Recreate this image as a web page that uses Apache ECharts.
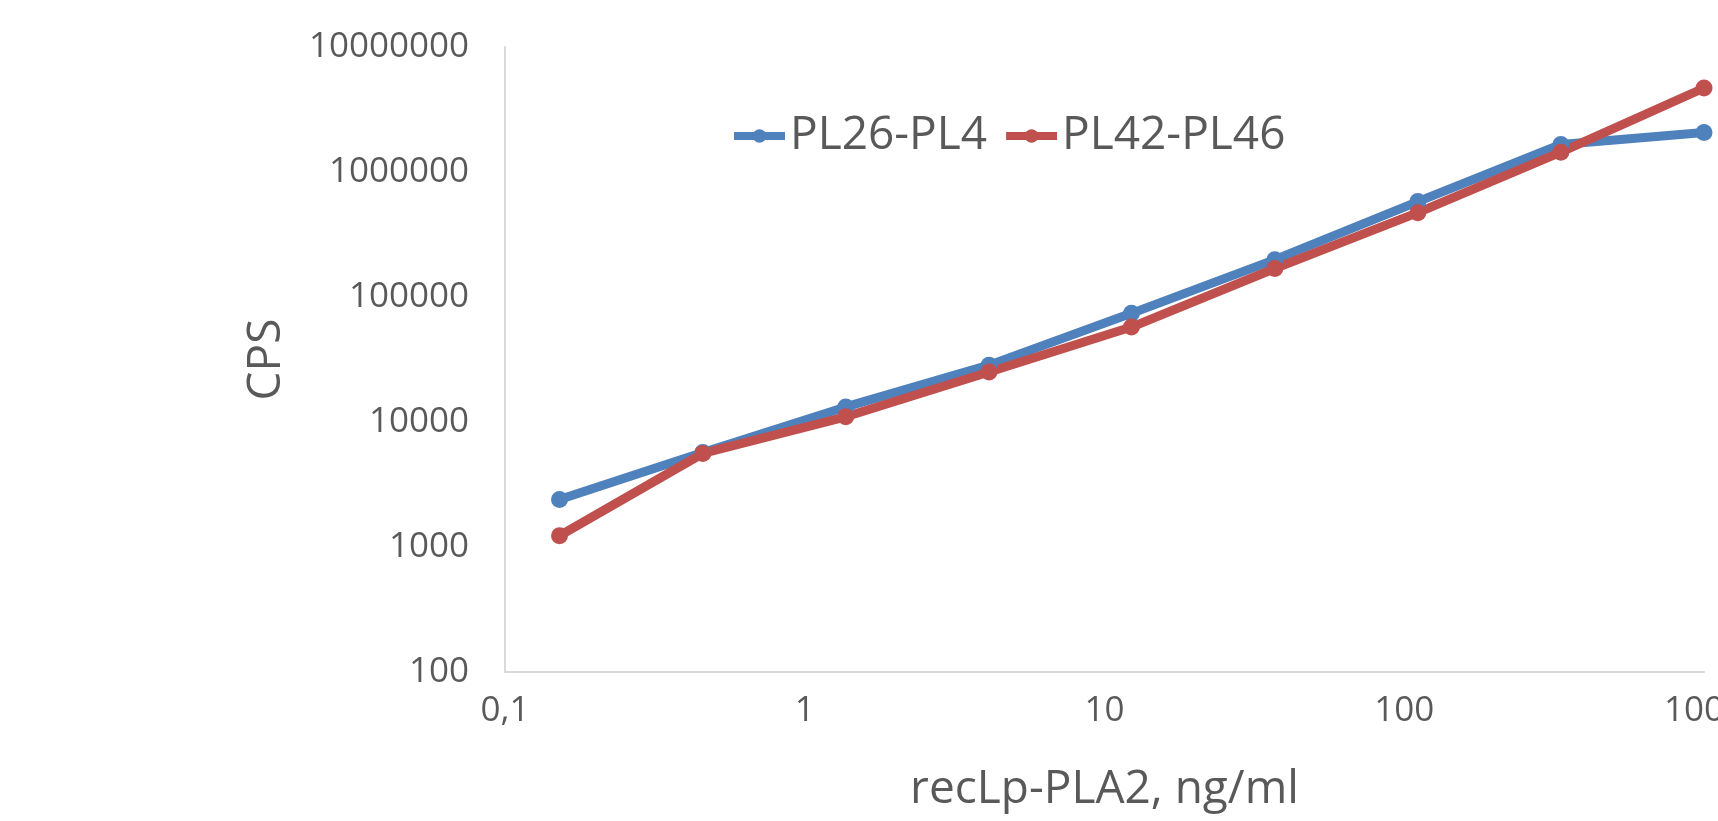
<!DOCTYPE html>
<html>
<head>
    <meta charset="utf-8">
    <title>CPS vs recLp-PLA2</title>
    <script src="https://cdn.jsdelivr.net/npm/echarts@6/dist/echarts.min.js"></script>
    <style>
        html, body { margin: 0; padding: 0; background: #fff; }
    </style>
</head>
<body>
<div id="main" style="width: 1718px;height:821px;"></div>
<script type="text/javascript">

    // data
    let conc = [0.152, 0.457, 1.37, 4.12, 12.3, 37.0, 111, 333, 1000];
    let pl26 = [2400, 5700, 13200, 28500, 74000, 199000, 580000, 1660000, 2070000];
    let pl42 = [1230, 5600, 11000, 25100, 57500, 169000, 473000, 1440000, 4700000];
    let seriesNames = ['PL26-PL4', 'PL42-PL46'];
    let colors = ['#4F81BD', '#C0504D'];

    function pairs(ys) {
        return conc.map(function (x, i) { return [x, ys[i]]; });
    }

    let font = 'Open Sans';
    let textColor = '#595959';

    let option = {
        animation: false,
        color: colors,
        grid: { left: 505, right: 14, top: 47, bottom: 149, containLabel: false, outerBoundsMode: 'none' },
        legend: {
            left: 725,
            top: 108,
            itemWidth: 51,
            itemHeight: 17,
            itemGap: 15,
            lineStyle: { width: 8 },
            textStyle: { fontFamily: font, fontSize: 46, color: textColor },
            data: seriesNames
        },
        xAxis: {
            type: 'log',
            logBase: 10,
            min: 0.1,
            max: 1000,
            name: 'recLp-PLA2, ng/ml',
            nameLocation: 'middle',
            nameGap: 95,
            nameTextStyle: { fontFamily: font, fontSize: 46, color: textColor },
            axisLine: { lineStyle: { color: '#D9D9D9', width: 2 } },
            axisTick: { show: false },
            splitLine: { show: false },
            axisLabel: {
                fontFamily: font, fontSize: 35, color: textColor, margin: 22,
                formatter: function (v) { return String(v).replace('.', ','); }
            }
        },
        yAxis: {
            type: 'log',
            logBase: 10,
            min: 100,
            max: 10000000,
            name: 'CPS',
            nameLocation: 'middle',
            nameRotate: 90,
            nameGap: 215,
            nameTextStyle: { fontFamily: font, fontSize: 46, color: textColor },
            axisLine: { show: true, lineStyle: { color: '#D9D9D9', width: 2 } },
            axisTick: { show: false },
            splitLine: { show: false },
            axisLabel: {
                fontFamily: font, fontSize: 35, color: textColor, margin: 36,
                formatter: function (v) { return String(Math.round(v)); }
            }
        },
        series: [
            {
                name: seriesNames[0],
                type: 'line',
                data: pairs(pl26),
                symbol: 'circle',
                symbolSize: 17,
                lineStyle: { width: 9, color: colors[0] },
                itemStyle: { color: colors[0] }
            },
            {
                name: seriesNames[1],
                type: 'line',
                data: pairs(pl42),
                symbol: 'circle',
                symbolSize: 17,
                lineStyle: { width: 9, color: colors[1] },
                itemStyle: { color: colors[1] }
            }
        ]
    };

    let myChart = echarts.init(document.getElementById('main'));
    myChart.setOption(option);
</script>
</body>
</html>
